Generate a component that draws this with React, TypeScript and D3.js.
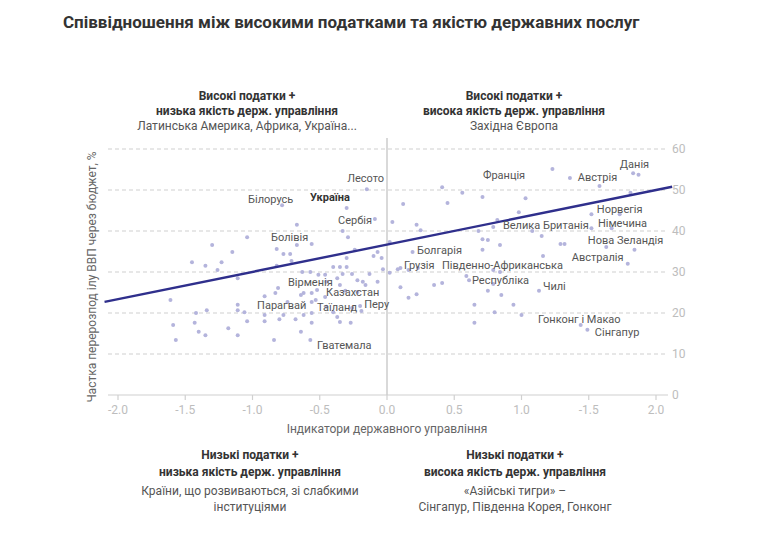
import React from "react";
import * as d3 from "d3";

const W = 764;
const H = 537;

const title = "Співвідношення між високими податками та якістю державних послуг";
const xTickValues = [-2, -1.5, -1, -0.5, 0, 0.5, 1, 1.5, 2];
const xTickLabels = ["-2.0", "-1.5", "-1.0", "-0.5", "0.0", "0.5", "1.0", "-1.5", "2.0"];
const yTickValues = [0, 10, 20, 30, 40, 50, 60];
const xTitle = "Індикатори державного управління";
const yTitle = "Частка перерозпод ілу ВВП через бюджет, %";

// governance indicator (x) and redistributed share of GDP, % (y)
const govIndex = [
  -1.61, -1.59, -1.57, -1.45, -1.35, -1.23, -1.26, -1.30, -1.15, -1.04, -1.11, -1.42, -1.34, -1.43, -1.40, -1.35,
  -1.18, -1.11, -1.11, -1.11, -1.06, -1.04, -0.91, -0.83, -0.81, -0.91, -0.91, -0.80, -0.77, -0.84, -0.78, -0.82,
  -0.77, -0.72, -0.82, -0.71, -0.67, -0.67, -0.56, -0.33, -0.29, -0.30, -0.15, -0.09, -0.24, -0.10, -0.07, -0.04,
  0.02, -0.40, -0.35, -0.30, -0.30, -0.68, -0.64, -0.57, -0.56, -0.56, -0.64, -0.62, -0.56, -0.53, -0.57, -0.63,
  -0.51, -0.46, -0.33, -0.26, -0.37, -0.22, -0.18, -0.16, -0.13, -0.07, -0.03, -0.45, -0.35, -0.31, -0.22, -0.52,
  -0.74, -0.56, -0.46, -0.45, -0.40, -0.62, -0.37, -0.35, -0.27, -0.26, -0.20, -0.19, 0.04, 0.12, 0.22, 0.25,
  0.41, 0.45, 0.56, 0.71, 0.19, 0.10, 0.02, 0.08, 0.16, 0.23, 0.10, 0.16, 0.22, 0.35, 0.41, 0.59,
  0.61, 0.65, 0.65, 0.68, 0.71, 0.75, 0.71, 0.84, 0.79, 0.82, 0.98, 1.03, 0.79, 0.84, 0.79, 0.75,
  0.85, 0.80, 0.94, 1.00, 1.13, 1.08, 1.15, 1.16, 1.23, 1.36, 1.58, 1.83, 1.87, 1.81, 1.52, 1.73,
  1.67, 1.29, 1.32, 1.63, 1.84, 1.79, 1.44, 1.49, 1.52,
];
const taxShare = [
  23.2, 17.1, 13.4, 32.4, 31.5, 32.4, 30.5, 36.6, 34.9, 38.5, 28.5, 20.0, 20.7, 17.6, 15.4, 14.6,
  16.3, 14.6, 22.0, 20.7, 20.2, 18.0, 24.1, 24.9, 26.1, 18.0, 19.5, 18.5, 19.5, 13.4, 46.3, 35.6,
  34.4, 34.4, 31.5, 32.7, 41.5, 36.6, 36.8, 40.0, 38.5, 45.6, 50.2, 42.9, 35.4, 33.9, 34.9, 33.4,
  37.3, 31.2, 31.2, 31.2, 33.4, 18.5, 15.4, 13.4, 17.6, 20.0, 24.4, 24.9, 24.9, 23.2, 30.0, 30.0,
  29.3, 29.3, 29.5, 29.5, 28.5, 28.0, 27.6, 26.8, 29.5, 27.6, 30.7, 27.6, 26.8, 25.4, 25.1, 25.6,
  22.7, 22.7, 23.9, 21.5, 20.2, 19.5, 19.0, 17.8, 17.6, 21.2, 21.7, 20.5, 42.2, 46.6, 41.5, 40.2,
  50.7, 46.8, 49.3, 48.3, 34.9, 31.0, 29.8, 30.7, 30.5, 31.0, 26.3, 23.7, 24.6, 26.8, 27.3, 29.0,
  28.0, 22.0, 17.6, 40.0, 38.0, 37.8, 35.4, 36.6, 41.0, 42.7, 44.6, 48.0, 30.5, 30.0, 27.1, 25.4,
  24.4, 20.2, 22.0, 19.5, 25.4, 40.0, 38.8, 33.9, 55.1, 52.9, 51.0, 54.1, 53.7, 49.3, 44.1, 44.1,
  40.7, 36.8, 36.8, 36.1, 35.4, 32.0, 17.1, 15.9, 40.7,
];

// regression line end points
const trendX = [-2.1, 2.12];
const trendY = [22.7, 50.8];

// country labels (x, y in data units, anchor)
const labelNames = [
  "Лесото", "Білорусь", "Україна", "Сербія", "Болівія", "Вірменія", "Казахстан", "Перу", "Парагвай", "Таїланд",
  "Гватемала", "Франція", "Австрія", "Данія", "Норвегія", "Велика Британія", "Німечина", "Нова Зеландія",
  "Болгарія", "Грузія", "Південно-Африканська", "Республіка", "Австралія", "Чилі", "Гонконг і Макао", "Сінгапур",
];
const labelX = [
  -0.022, -1.033, -0.572, -0.364, -0.862, -0.736, -0.453, -0.17, -0.966, -0.52,
  -0.52, 0.713, 1.419, 1.731, 1.56, 0.862, 1.568, 1.493,
  0.223, 0.126, 0.409, 0.632, 1.374, 1.159, 1.122, 1.545,
];
const labelY = [
  51.95, 46.8, 47.3, 41.7, 37.6, 26.5, 24.1, 21.3, 20.9, 20.6,
  11.2, 52.7, 52.3, 55.4, 44.4, 40.5, 41.0, 36.8,
  34.4, 30.7, 30.7, 27.1, 32.8, 25.5, 17.6, 14.5,
];
const labelAnchor = labelNames.map((n) => (n === "Лесото" ? "end" : "start"));
const labelBold = labelNames.map((n) => n === "Україна");

const quadrants = [
  { cx: 247, y: 100, step: 15, gap: 15, bold: ["Високі податки +", "низька якість держ. управління"], light: ["Латинська Америка, Африка, Україна..."] },
  { cx: 514, y: 100, step: 15, gap: 15, bold: ["Високі податки +", "висока якість держ. управління"], light: ["Західна Європа"] },
  { cx: 250, y: 459, step: 16.5, gap: 19.5, bold: ["Низькі податки +", "низька якість держ. управління"], light: ["Країни, що розвиваються, зі слабкими", "інституціями"] },
  { cx: 515, y: 459, step: 16.5, gap: 19.5, bold: ["Низькі податки +", "висока якість держ. управління"], light: ["«Азійські тигри» –", "Сінгапур, Південна Корея, Гонконг"] },
];

const FONT = "Roboto, 'Noto Sans', sans-serif";

export default function App() {
  const x = d3.scaleLinear().domain([-2, 2]).range([118, 656]);
  const y = d3.scaleLinear().domain([0, 60]).range([395, 149]);
  const gridLeft = 108;
  const gridRight = 668;
  const line = d3
    .line<number>()
    .x((_, i) => x(trendX[i]))
    .y((d) => y(d));

  return (
    <svg width={W} height={H} style={{ position: "absolute", left: 0, top: 0, background: "#fff" }} fontFamily={FONT}>
      <rect x={0} y={0} width={W} height={H} fill="#fff" />
      <text x={63} y={28} fontSize={17} fontWeight={700} fill="#333">
        {title}
      </text>

      {/* grid */}
      {yTickValues.map((t) =>
        t === 0 ? null : (
          <line key={"g" + t} x1={gridLeft} x2={gridRight} y1={y(t)} y2={y(t)} stroke="#cfcfcf" strokeWidth={1} strokeDasharray="4 3" />
        )
      )}
      <line x1={gridLeft} x2={gridRight} y1={y(0)} y2={y(0)} stroke="#d0d0d0" strokeWidth={1.2} />
      {xTickValues.map((t) => (
        <line key={"xt" + t} x1={x(t)} x2={x(t)} y1={y(0)} y2={y(0) + 5} stroke="#d0d0d0" strokeWidth={1.2} />
      ))}
      <line x1={x(0)} x2={x(0)} y1={138} y2={y(0)} stroke="#cccccc" strokeWidth={1.5} />

      {/* tick labels */}
      {xTickValues.map((t, i) => (
        <text key={"xl" + i} x={x(t)} y={414} fontSize={12} fill="#bdbdbd" textAnchor="middle">
          {xTickLabels[i]}
        </text>
      ))}
      {yTickValues.map((t) => (
        <text key={"yl" + t} x={672} y={y(t) + 4} fontSize={12} fill="#bdbdbd">
          {t}
        </text>
      ))}

      {/* axis titles */}
      <text x={387} y={433} fontSize={12} fill="#666" textAnchor="middle">
        {xTitle}
      </text>
      <text transform={`translate(96,277) rotate(-90)`} fontSize={12} fill="#666" textAnchor="middle">
        {yTitle}
      </text>

      {/* points */}
      {govIndex.map((gx, i) => (
        <circle key={"p" + i} cx={x(gx)} cy={y(taxShare[i])} r={2} fill="#b4b4dc" />
      ))}

      {/* trend */}
      <path d={line(trendY) || ""} fill="none" stroke="#2f2f8c" strokeWidth={2.4} />

      {/* labels */}
      {labelNames.map((n, i) => (
        <text
          key={"lb" + i}
          x={x(labelX[i])}
          y={y(labelY[i])}
          fontSize={11}
          fontWeight={labelBold[i] ? 700 : 400}
          fill={labelBold[i] ? "#333" : "#555"}
          textAnchor={labelAnchor[i]}
        >
          {n}
        </text>
      ))}

      {/* quadrant annotations */}
      {quadrants.map((q, qi) => (
        <g key={"q" + qi}>
          {q.bold.map((s, j) => (
            <text key={"b" + j} x={q.cx} y={q.y + j * q.step} fontSize={12} fontWeight={700} fill="#333" textAnchor="middle">
              {s}
            </text>
          ))}
          {q.light.map((s, j) => (
            <text
              key={"l" + j}
              x={q.cx}
              y={q.y + (q.bold.length - 1) * q.step + q.gap + j * 16}
              fontSize={12}
              fill="#555"
              textAnchor="middle"
            >
              {s}
            </text>
          ))}
        </g>
      ))}
    </svg>
  );
}
